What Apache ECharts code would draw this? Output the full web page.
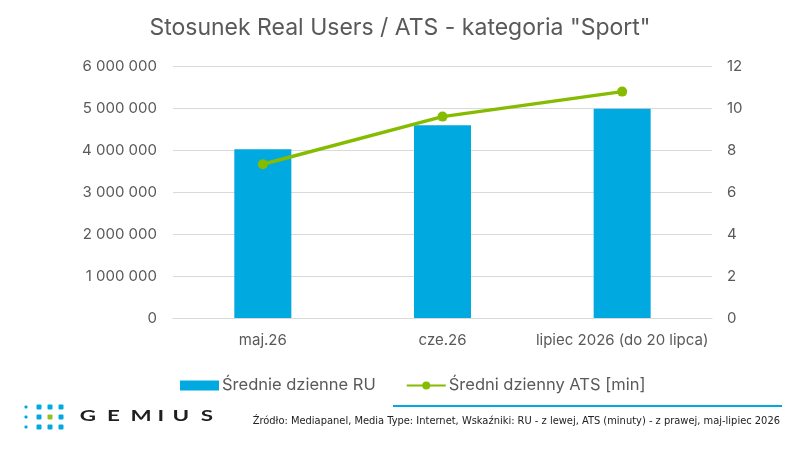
<!DOCTYPE html>
<html>
<head>
<meta charset="utf-8">
<script src="https://cdn.jsdelivr.net/npm/echarts@6/dist/echarts.min.js"></script>
<style>html,body{margin:0;padding:0;background:#fff}#c{width:800px;height:450px}</style>
</head>
<body>
<div id="c"></div>
<script>
const titleText = 'Stosunek Real Users / ATS - kategoria "Sport"';
const categories = ['maj.26', 'cze.26', 'lipiec 2026 (do 20 lipca)'];
const ruName = 'Średnie dzienne RU';
const atsName = 'Średni dzienny ATS [min]';
const ruValues = [4020000, 4590000, 4980000];
const atsValues = [7.32, 9.59, 10.78];
const leftAxis = { min: 0, max: 6000000, interval: 1000000 };
const rightAxis = { min: 0, max: 12, interval: 2 };
const sourceText = 'Źródło: Mediapanel, Media Type: Internet, Wskaźniki: RU - z lewej, ATS (minuty) - z prawej, maj-lipiec 2026';
const logoLetters = ['G', 'E', 'M', 'I', 'U', 'S'];

const FONT = 'Inter, "Open Sans", sans-serif';
const GREY = '#595959';
const BLUE = '#00a9e0';
const GREEN = '#86bc00';

function fmtThousands(v) {
  return String(v).replace(/\B(?=(\d{3})+(?!\d))/g, ' ');
}

// logo graphic
const logoEls = [];
const dotCols = [26, 39, 50, 61];
const dotRows = [407, 417, 427];
dotRows.forEach((y, ri) => {
  dotCols.forEach((x, ci) => {
    const s = ci === 0 ? 3 : 5;
    const green = (ri === 1 && ci === 2);
    logoEls.push({ type: 'rect', shape: { x: x - s / 2, y: y - s / 2, width: s, height: s, r: 1 }, style: { fill: green ? '#8dc21f' : BLUE } });
  });
});
const letterX = [88, 113.5, 141, 160.7, 180.8, 207];
logoLetters.forEach((ch, i) => {
  logoEls.push({ type: 'text', x: letterX[i], y: 416, scaleX: 1.4, style: { text: ch, font: 'bold 16px "Lato", "DejaVu Sans", sans-serif', fill: '#1f1f1f', align: 'center', verticalAlign: 'middle' } });
});

const chart = echarts.init(document.getElementById('c'), null, { renderer: 'canvas' });
chart.setOption({
  animation: false,
  backgroundColor: '#fff',
  title: {
    text: titleText, left: 'center', top: 12,
    textStyle: { fontFamily: FONT, fontSize: 23, fontWeight: 'normal', color: GREY }
  },
  grid: { left: 173, right: 88, top: 66, bottom: 132, containLabel: false },
  legend: {
    left: 175, top: 372, itemWidth: 39, itemHeight: 10, itemGap: 30,
    textStyle: { fontFamily: FONT, fontSize: 16.5, color: GREY, padding: [0, 0, 0, -2] },
    data: [
      { name: ruName, icon: 'rect', itemStyle: { color: BLUE } },
      { name: atsName }
    ]
  },
  xAxis: {
    type: 'category', data: categories,
    axisLine: { lineStyle: { color: '#d9d9d9', width: 1 } },
    axisTick: { show: false },
    axisLabel: { fontFamily: FONT, fontSize: 15, color: GREY, margin: 15, interval: 0 }
  },
  yAxis: [
    {
      type: 'value', min: leftAxis.min, max: leftAxis.max, interval: leftAxis.interval,
      axisLine: { show: false }, axisTick: { show: false },
      splitLine: { lineStyle: { color: '#d9d9d9', width: 1 } },
      axisLabel: { fontFamily: FONT, fontSize: 15, color: GREY, margin: 16, formatter: fmtThousands }
    },
    {
      type: 'value', min: rightAxis.min, max: rightAxis.max, interval: rightAxis.interval,
      axisLine: { show: false }, axisTick: { show: false }, splitLine: { show: false },
      axisLabel: { fontFamily: FONT, fontSize: 15, color: GREY, margin: 15 }
    }
  ],
  series: [
    {
      name: ruName, type: 'bar', data: ruValues, yAxisIndex: 0,
      barWidth: 57, itemStyle: { color: BLUE }
    },
    {
      name: atsName, type: 'line', data: atsValues, yAxisIndex: 1,
      symbol: 'circle', symbolSize: 10,
      lineStyle: { color: GREEN, width: 3.5 },
      itemStyle: { color: GREEN }
    }
  ],
  graphic: [
    { type: 'rect', shape: { x: 393, y: 405, width: 389, height: 2 }, style: { fill: BLUE } },
    { type: 'text', x: 780, y: 421, style: { text: sourceText, font: '11px "Liberation Sans Narrow", "DejaVu Sans Condensed", sans-serif', fill: '#222', align: 'right', verticalAlign: 'middle' } },
    { type: 'group', children: logoEls }
  ]
});
</script>
</body>
</html>
